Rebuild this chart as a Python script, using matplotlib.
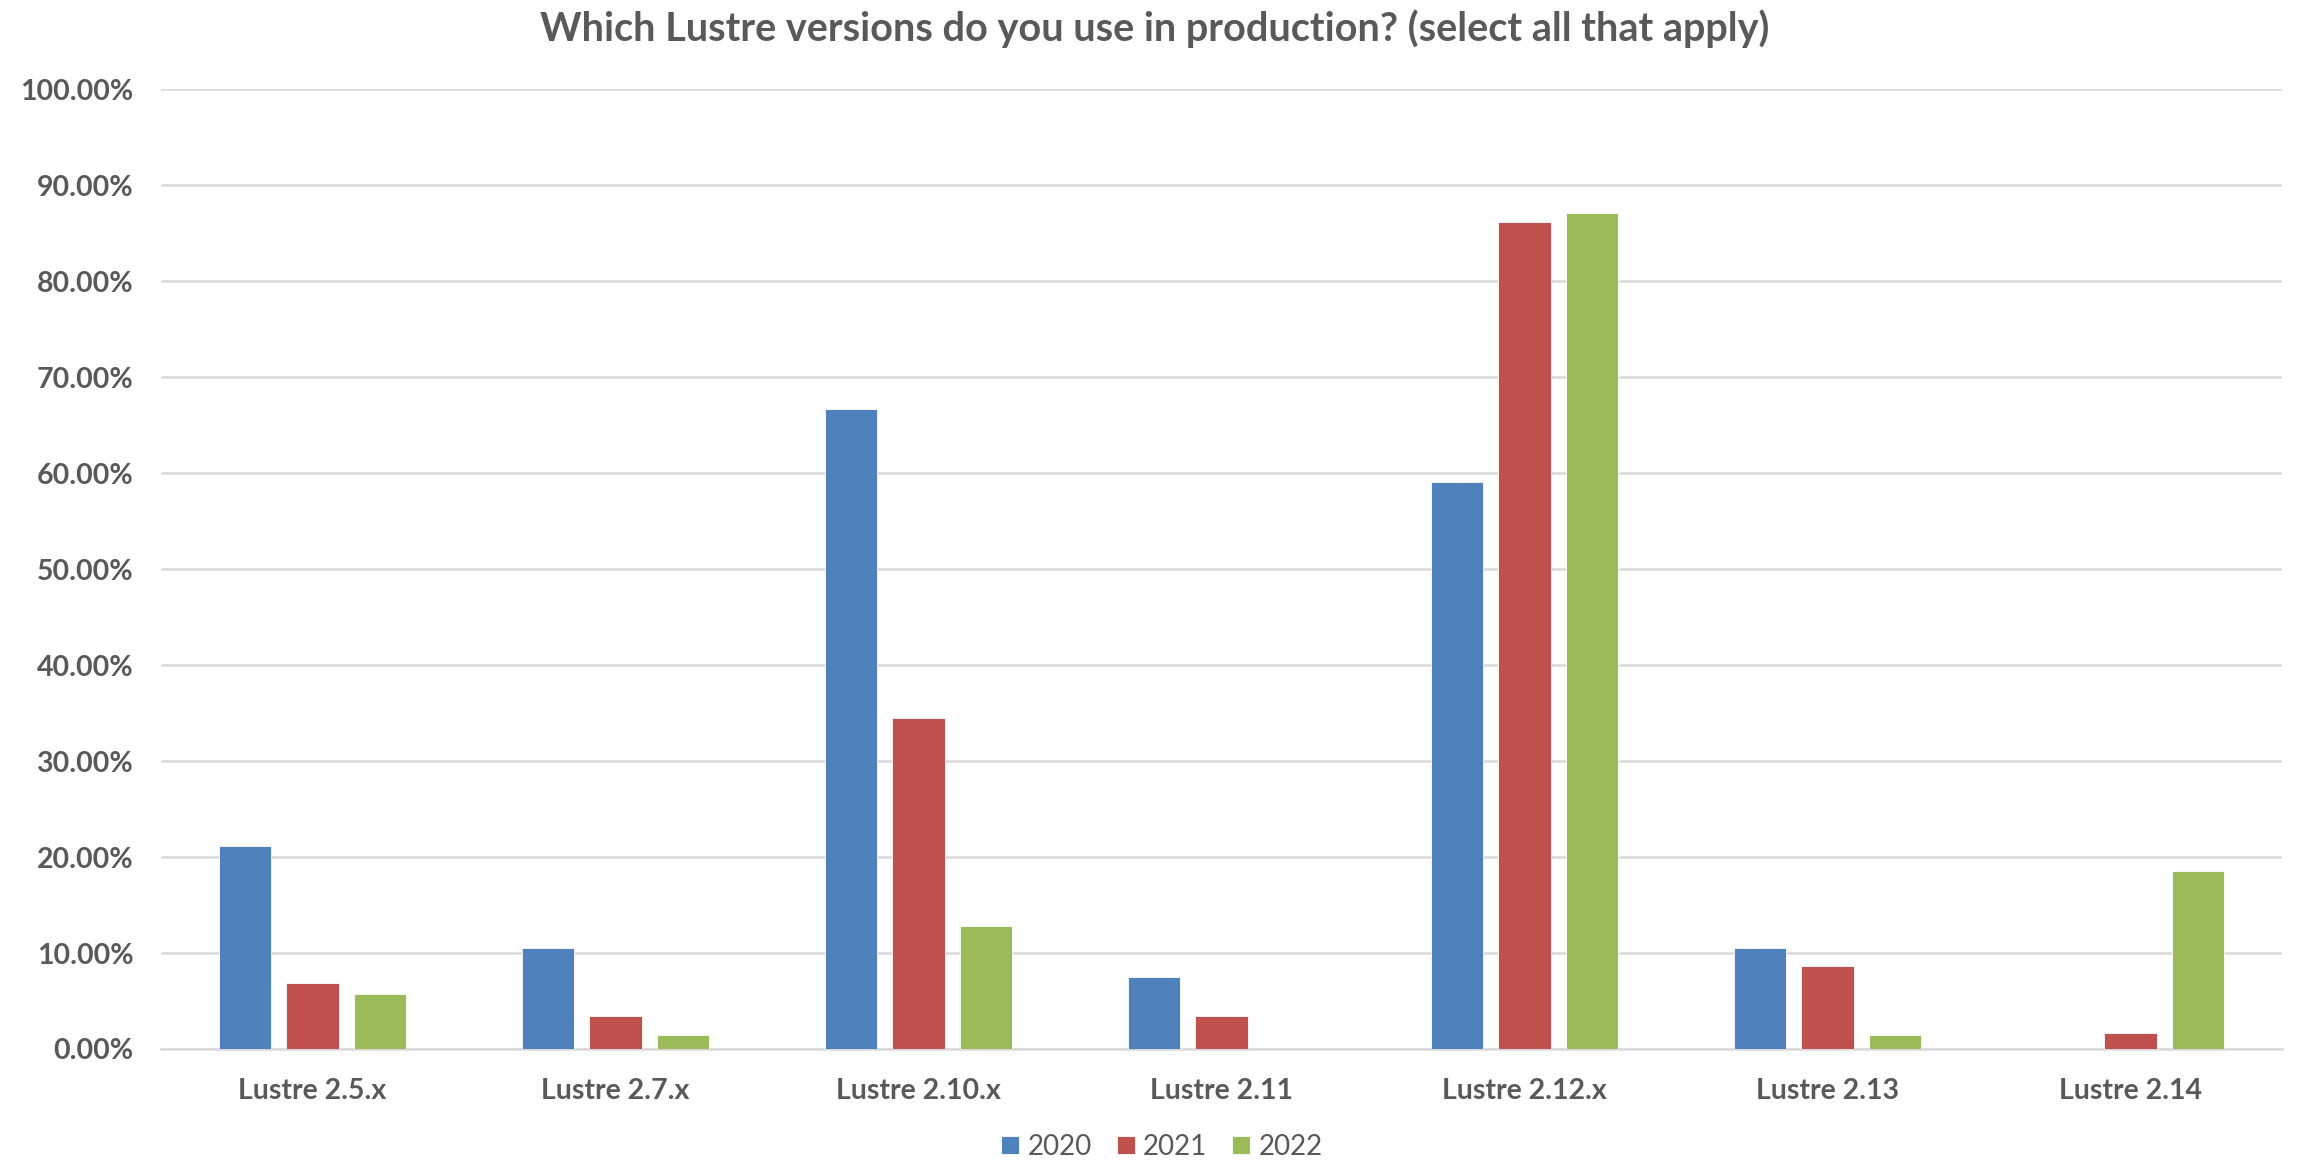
import numpy as np
import matplotlib
matplotlib.use('Agg')
import matplotlib.pyplot as plt
from matplotlib.ticker import PercentFormatter

plt.rcParams['font.family'] = ['Lato', 'DejaVu Sans']

# survey answers, share of respondents
categories = ['Lustre 2.5.x', 'Lustre 2.7.x', 'Lustre 2.10.x', 'Lustre 2.11',
              'Lustre 2.12.x', 'Lustre 2.13', 'Lustre 2.14']
years = ['2020', '2021', '2022']
v2020 = [0.2115, 0.1057, 0.6667, 0.0754, 0.5908, 0.1057, 0.0]
v2021 = [0.0688, 0.0344, 0.3447, 0.0344, 0.8618, 0.0865, 0.0167]
v2022 = [0.0570, 0.0146, 0.1283, 0.0, 0.8709, 0.0146, 0.1856]
yticks = [0.0, 0.1, 0.2, 0.3, 0.4, 0.5, 0.6, 0.7, 0.8, 0.9, 1.0]

colors = ['#4F81BD', '#C0504D', '#9BBB59']
txt = '#595959'

fig = plt.figure(figsize=(23.01, 11.65), dpi=100)
ax = fig.add_axes([0.07, 0.0996, 0.9217, 0.8236])

x = np.arange(len(categories))
w = 0.174
step = 0.223
for i, (vals, yr) in enumerate(zip([v2020, v2021, v2022], years)):
    ax.bar(x + (i - 1) * step, vals, w, color=colors[i], label=yr,
           edgecolor='white', linewidth=0.6, zorder=3)

ax.set_xlim(-0.5, len(categories) - 0.5)
ax.set_ylim(0, 1.0)
ax.set_yticks(yticks)
ax.yaxis.set_major_formatter(PercentFormatter(1.0, decimals=2))
ax.set_xticks(x)
ax.set_xticklabels(categories)
ax.grid(axis='y', color='#d9d9d9', linewidth=1.8, zorder=0)
for s in ['top', 'right', 'left']:
    ax.spines[s].set_visible(False)
ax.spines['bottom'].set_color('#d9d9d9')
ax.spines['bottom'].set_linewidth(1.8)
ax.tick_params(axis='both', length=0, colors=txt)
ax.tick_params(axis='y', pad=20, labelsize=20.5)
ax.tick_params(axis='x', pad=21, labelsize=20.5)
for lab in ax.get_xticklabels() + ax.get_yticklabels():
    lab.set_fontweight('bold')

fig.suptitle('Which Lustre versions do you use in production? (select all that apply)',
             x=0.502, y=0.975, va='center', fontsize=28.5, fontweight='bold', color=txt)

fig.legend(loc='lower center', bbox_to_anchor=(0.505, -0.017), ncol=3, frameon=False,
           fontsize=20, handlelength=0.65, handleheight=0.65, handletextpad=0.3,
           columnspacing=0.9, labelcolor=txt)

fig.savefig('out.png', dpi=100)
